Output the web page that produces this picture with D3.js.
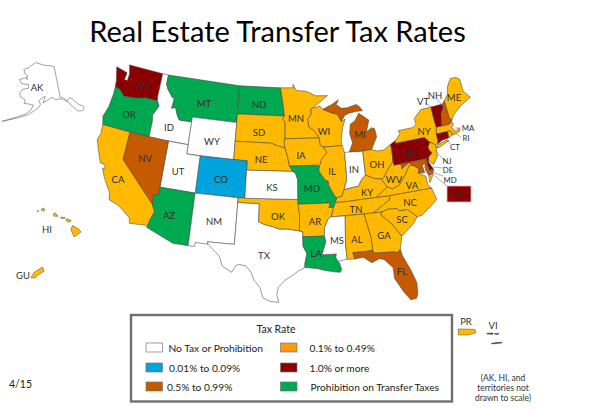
<!DOCTYPE html>
<html><head><meta charset="utf-8">
<script src="https://cdn.jsdelivr.net/npm/d3@7"></script>
<style>html,body{margin:0;padding:0;background:#fff}svg{display:block}text{font-family:Lato,"Open Sans",sans-serif}</style>
</head><body><svg id="c" width="600" height="413"></svg>
<script>
// ---------- data: rate classes ----------
const rateClasses = ["none","low","mid","high","top","ban"];
const rateColors = ["#ffffff","#00a3dc","#ffb900","#c55a00","#8b0000","#00a84f"];
const legendLabels = ["No Tax or Prohibition","0.01% to 0.09%","0.1% to 0.49%","0.5% to 0.99%","1.0% or more","Prohibition on Transfer Taxes"];
const noTax = ["ID","WY","UT","NM","TX","KS","MS","IN","AK"];
const lowRate = ["CO"];
const midRate = ["CA","SD","NE","OK","AR","MN","IA","WI","IL","OH","KY","TN","AL","GA","SC","NC","VA","WV","NY","LI","ME","MA","RI","NJ"];
const highRate = ["NV","MI","MIU","FL","NH","MD"];
const topRate = ["WA","PA","VT","CT","DE"];
const banned = ["OR","MT","ND","MO","LA","AZ"];

// ---------- data: state outlines, [lon,lat] ----------
const WA=[[-124.7,48.4],[-123.1,48.15],[-122.8,48.1],[-122.9,47.3],[-122.4,47.3],[-122.35,48.1],[-122.75,49],[-117.03,49],[-117.04,46.43],[-116.92,45.99],[-118.98,46],[-119.3,45.93],[-120.5,45.7],[-121.2,45.65],[-122.3,45.55],[-122.8,45.9],[-123.2,46.15],[-124,46.27],[-124.1,46.9]];
const OR=[[-124,46.27],[-123.2,46.15],[-122.8,45.9],[-122.3,45.55],[-121.2,45.65],[-120.5,45.7],[-119.3,45.93],[-118.98,46],[-116.92,45.99],[-116.5,45.5],[-117.2,44.4],[-117.03,43.8],[-117.03,42],[-124.2,42],[-124.55,42.85],[-124.1,44],[-123.95,45.5]];
const ID=[[-117.03,49],[-116.05,49],[-116.05,48],[-115.7,47.5],[-114.7,46.7],[-114.35,46.65],[-114.5,45.55],[-113.9,45.7],[-113.45,44.95],[-113,44.45],[-111.05,44.48],[-111.05,42],[-117.03,42],[-117.03,43.8],[-117.2,44.4],[-116.5,45.5],[-116.92,45.99],[-117.04,46.43]];
const MT=[[-116.05,49],[-104.05,49],[-104.04,45],[-111.05,45],[-111.05,44.48],[-113,44.45],[-113.45,44.95],[-113.9,45.7],[-114.5,45.55],[-114.35,46.65],[-114.7,46.7],[-115.7,47.5],[-116.05,48]];
const WY=[[-111.05,45],[-104.04,45],[-104.05,41],[-111.05,41]];
const ND=[[-104.05,49],[-97.23,49],[-96.85,47.5],[-96.55,45.94],[-104.05,45.94]];
const SD=[[-104.05,45.94],[-96.55,45.94],[-96.85,45.6],[-96.45,45.3],[-96.45,43.5],[-96.6,43.1],[-96.45,42.5],[-97.9,42.8],[-98.5,43],[-104.05,43]];
const NE=[[-104.05,43],[-98.5,43],[-97.9,42.8],[-96.45,42.5],[-96.1,41.7],[-95.85,40.7],[-95.31,40],[-102.05,40],[-102.05,41],[-104.05,41]];
const CO=[[-109.05,41],[-102.05,41],[-102.05,37],[-109.05,37]];
const UT=[[-114.05,42],[-111.05,42],[-111.05,41],[-109.05,41],[-109.05,37],[-114.05,37]];
const NV=[[-120,42],[-114.05,42],[-114.05,36.2],[-114.7,36.1],[-114.6,35],[-120,39]];
const CA=[[-124.2,42],[-120,42],[-120,39],[-114.6,35],[-114.15,34.3],[-114.5,33.5],[-114.72,32.72],[-117.13,32.53],[-117.3,33.1],[-118.4,33.75],[-119.2,34.15],[-120.5,34.45],[-120.65,35.15],[-121.9,36.6],[-122.5,37.5],[-122.1,37.6],[-122.4,37.95],[-123,38],[-123.8,39.3],[-124.35,40.3],[-124.1,41]];
const AZ=[[-114.05,37],[-109.05,37],[-109.05,31.33],[-111.07,31.33],[-114.82,32.5],[-114.72,32.72],[-114.5,33.5],[-114.15,34.3],[-114.6,35],[-114.7,36.1],[-114.05,36.2]];
const NM=[[-109.05,37],[-103,37],[-103.05,32],[-106.6,32],[-106.5,31.75],[-108.2,31.78],[-108.2,31.33],[-109.05,31.33]];
const TX=[[-103,36.5],[-100,36.5],[-100,34.56],[-99.2,34.3],[-98.1,34.1],[-97.2,33.85],[-96,33.85],[-94.48,33.64],[-94.04,33.55],[-94.04,33],[-94.04,31.99],[-93.55,31.2],[-93.85,30.1],[-93.85,29.7],[-94.7,29.35],[-95.4,28.9],[-96.4,28.35],[-97.2,27.6],[-97.4,26.8],[-97.15,25.96],[-98.2,26.05],[-99.1,26.4],[-99.5,27.5],[-100.3,28.3],[-100.7,29.1],[-101.4,29.77],[-102.3,29.88],[-102.7,29.7],[-103.15,28.98],[-104.4,29.55],[-104.9,30.6],[-106.5,31.75],[-106.6,32],[-103.05,32]];
const OK=[[-103,37],[-94.62,37],[-94.43,35.4],[-94.48,33.64],[-96,33.85],[-97.2,33.85],[-98.1,34.1],[-99.2,34.3],[-100,34.56],[-100,36.5],[-103,36.5]];
const KS=[[-102.05,40],[-95.31,40],[-94.9,39.8],[-94.6,39.1],[-94.62,37],[-102.05,37]];
const MN=[[-97.23,49],[-95.15,49],[-95.15,49.38],[-94.6,48.7],[-93,48.6],[-91.4,48.05],[-89.5,48],[-92,46.75],[-92.3,46.66],[-92.3,46.1],[-92.85,45.6],[-92.75,44.75],[-91.9,44.3],[-91.2,43.5],[-96.45,43.5],[-96.45,45.3],[-96.85,45.6],[-96.55,45.94],[-96.85,47.5]];
const IA=[[-96.45,43.5],[-91.2,43.5],[-91.1,42.7],[-90.65,42.5],[-90.15,41.9],[-91,41.2],[-91.4,40.4],[-91.7,40.6],[-95.77,40.58],[-96.1,41.7],[-96.45,42.5],[-96.6,43.1]];
const MO=[[-95.77,40.58],[-91.7,40.6],[-91.4,40.4],[-91.5,40],[-90.7,39],[-90.2,38.8],[-90.2,38.4],[-89.5,37.3],[-89.15,37],[-89.4,36.5],[-89.7,36],[-90.37,36],[-90.15,36.5],[-94.62,36.5],[-94.62,37],[-94.6,39.1],[-94.9,39.8],[-95.31,40]];
const AR=[[-94.62,36.5],[-90.15,36.5],[-90.37,36],[-89.7,36],[-90.1,35.1],[-90.6,34.7],[-91.1,33.9],[-91.17,33],[-94.04,33],[-94.04,33.55],[-94.48,33.64],[-94.43,35.4]];
const LA=[[-94.04,33],[-91.17,33],[-91,32.4],[-91.6,31],[-89.73,31],[-89.85,30.65],[-89.6,30.2],[-89.4,30],[-89.2,29.3],[-89.4,29],[-90.2,29.1],[-91.3,29.3],[-92.3,29.55],[-93.85,29.7],[-93.85,30.1],[-93.55,31.2],[-94.04,31.99]];
const WI=[[-92.3,46.66],[-92,46.75],[-90.8,46.9],[-90.4,46.55],[-89.1,46.13],[-88.1,45.9],[-87.6,45.1],[-87,45.3],[-87.5,44.4],[-87.9,43],[-87.8,42.5],[-90.65,42.5],[-91.1,42.7],[-91.2,43.5],[-91.9,44.3],[-92.75,44.75],[-92.85,45.6],[-92.3,46.1]];
const IL=[[-90.65,42.5],[-87.8,42.5],[-87.53,41.7],[-87.53,39.3],[-87.6,38.7],[-88.05,37.8],[-88.45,37.1],[-89.15,37],[-89.5,37.3],[-90.2,38.4],[-90.2,38.8],[-90.7,39],[-91.5,40],[-91.4,40.4],[-91,41.2],[-90.15,41.9]];
const IN=[[-87.53,41.7],[-87.2,41.75],[-86.8,41.76],[-84.8,41.7],[-84.82,39.1],[-85.4,38.7],[-86,38],[-86.8,37.95],[-88.05,37.8],[-87.6,38.7],[-87.53,39.3]];
const MI=[[-86.8,41.76],[-84.8,41.7],[-83.45,41.73],[-83.1,42.2],[-82.45,43],[-82.6,43.9],[-83,44.05],[-83.9,43.7],[-83.3,44.9],[-84.75,45.78],[-85.5,45],[-86.25,44.7],[-86.5,43.7],[-86.2,42.7]];
const MIU=[[-90.4,46.55],[-89.1,46.13],[-88.1,45.9],[-87.6,45.1],[-87,45.7],[-86.3,45.9],[-85,46],[-84.1,46],[-84.5,46.45],[-85,46.75],[-86.5,46.5],[-87.4,46.5],[-88.2,46.95],[-87.8,47.45],[-88.9,47]];
const OH=[[-84.8,41.7],[-83.45,41.73],[-82.7,41.5],[-81.7,41.5],[-80.52,41.98],[-80.52,40.64],[-80.7,40],[-81.7,39.2],[-82.2,38.6],[-82.6,38.45],[-83.7,38.65],[-84.82,39.1]];
const KY=[[-89.15,37],[-88.45,37.1],[-88.05,37.8],[-86.8,37.95],[-86,38],[-85.4,38.7],[-84.82,39.1],[-83.7,38.65],[-82.6,38.45],[-81.97,37.54],[-83.68,36.6],[-88.05,36.5],[-89.4,36.5]];
const TN=[[-90.1,35],[-89.7,36],[-89.4,36.5],[-88.05,36.5],[-83.68,36.6],[-81.68,36.59],[-82,36.1],[-84.32,35]];
const MS=[[-90.3,35],[-88.2,35],[-88.47,31.9],[-88.4,30.35],[-89.6,30.2],[-89.85,30.65],[-89.73,31],[-91.6,31],[-91,32.4],[-91.17,33],[-91.1,33.9],[-90.6,34.7]];
const AL=[[-88.2,35],[-85.6,35],[-85,32.3],[-85,31],[-87.6,31],[-87.4,30.3],[-88.4,30.35],[-88.47,31.9]];
const GA=[[-85.6,35],[-83.1,35],[-83.35,34.7],[-82,33.5],[-81,32.1],[-81.45,30.7],[-82,30.4],[-82.2,30.55],[-84.86,30.7],[-85,31],[-85,32.3]];
const FL=[[-87.6,31],[-85,31],[-84.86,30.7],[-82.2,30.55],[-82,30.4],[-81.45,30.7],[-81.3,30],[-80.55,28.4],[-80.05,26.9],[-80.15,25.7],[-80.4,25.2],[-81.1,25.15],[-81.8,26.1],[-82.7,27.7],[-82.7,28.9],[-83.7,29.9],[-84.3,30.05],[-85.3,29.7],[-86.3,30.4],[-87.4,30.3]];
const SC=[[-83.35,34.7],[-83.1,35],[-82.3,35.2],[-81.05,35.1],[-80.8,34.82],[-79.67,34.8],[-78.55,33.86],[-79.2,33.2],[-80.5,32.4],[-81,32.1],[-82,33.5]];
const NC=[[-84.32,35],[-82,36.1],[-81.68,36.59],[-75.87,36.55],[-75.5,35.25],[-76.5,34.65],[-77.9,33.9],[-78.55,33.86],[-79.67,34.8],[-80.8,34.82],[-81.05,35.1],[-82.3,35.2],[-83.1,35]];
const VA=[[-83.68,36.6],[-81.97,37.54],[-81.25,37.25],[-80.3,37.5],[-79.3,38.4],[-78.35,39.4],[-77.75,39.3],[-77.05,38.85],[-77.3,38.4],[-76.3,37.9],[-76.3,36.95],[-75.87,36.55],[-81.68,36.59]];
const VAE=[[-75.25,38.03],[-75.9,37.95],[-75.95,37.15],[-75.6,37.5]];
const WV=[[-82.6,38.45],[-82.2,38.6],[-81.7,39.2],[-80.7,40],[-80.52,40.64],[-80.52,39.72],[-79.48,39.72],[-79.48,39.2],[-78.35,39.7],[-77.75,39.3],[-78.35,39.4],[-79.3,38.4],[-80.3,37.5],[-81.25,37.25],[-81.97,37.54]];
const PA=[[-80.52,41.98],[-79.76,42.27],[-79.76,42],[-75.35,42],[-74.7,41.36],[-75.1,40.95],[-75.1,40.65],[-74.75,40.2],[-75.4,39.8],[-75.79,39.72],[-80.52,39.72]];
const NY=[[-79.76,42.27],[-78.9,42.9],[-79.05,43.27],[-76.8,43.3],[-76.2,43.55],[-76.3,44.2],[-75,45],[-73.35,45],[-73.35,43.6],[-73.27,42.75],[-73.5,42.05],[-73.5,41.3],[-73.65,41],[-74,40.95],[-74.7,41.36],[-75.35,42],[-79.76,42]];
const LI=[[-74.05,40.6],[-73.7,40.9],[-72.3,41.15],[-71.9,41.05],[-73.5,40.6]];
const NJ=[[-74.7,41.36],[-74,40.95],[-74,40.4],[-74.1,39.7],[-74.9,38.95],[-75.5,39.5],[-75.4,39.8],[-74.75,40.2],[-75.1,40.65],[-75.1,40.95]];
const DE=[[-75.79,39.72],[-75.4,39.8],[-75.55,39.4],[-75.05,38.45],[-75.7,38.45]];
const MD=[[-79.48,39.72],[-75.79,39.72],[-75.7,38.45],[-75.05,38.45],[-75.25,38.03],[-75.9,37.95],[-76.2,38.6],[-76.1,39.3],[-76.5,39.1],[-76.4,38.3],[-77.3,38.4],[-77.05,38.85],[-77.75,39.3],[-78.35,39.7],[-79.48,39.2]];
const VT=[[-73.35,45],[-71.5,45],[-71.6,44.5],[-72.05,44.1],[-72.45,42.73],[-73.27,42.75],[-73.35,43.6]];
const NH=[[-71.5,45],[-71.08,45.3],[-70.98,43.4],[-70.7,43.07],[-70.85,42.87],[-71.3,42.7],[-72.45,42.73],[-72.05,44.1],[-71.6,44.5]];
const ME=[[-71.08,45.3],[-70.4,45.8],[-70,46.7],[-69.2,47.45],[-68.3,47.35],[-67.8,47.05],[-67.8,45.7],[-67,44.85],[-68.8,44.3],[-70.2,43.6],[-70.7,43.07],[-70.98,43.4]];
const MA=[[-73.27,42.75],[-71.3,42.7],[-70.85,42.87],[-70.6,42.65],[-71.05,42.3],[-70.55,41.8],[-70,42.05],[-69.95,41.7],[-70.65,41.55],[-71.2,41.5],[-71.38,42.02],[-71.8,42.02],[-73.5,42.05]];
const RI=[[-71.8,42.02],[-71.38,42.02],[-71.2,41.5],[-71.85,41.32]];
const CT=[[-73.5,42.05],[-71.8,42.02],[-71.85,41.32],[-72.9,41.25],[-73.65,41],[-73.5,41.3]];

// insets
const AK=[[-141,69.65],[-143.5,70.1],[-148,70.4],[-152,70.85],[-156.6,71.35],[-160,70.5],[-163,69.5],[-166.2,68.9],[-164.5,67.6],[-162,67],[-163.5,66.6],[-161.8,66.1],[-164,66.5],[-168,65.65],[-166,64.6],[-161,64.6],[-161,63.5],[-164.5,63],[-166,61.6],[-165,60.7],[-162,60],[-162.5,59],[-158,58.8],[-157,58.7],[-158.5,57],[-161,55.9],[-164.5,54.9],[-172,52.4],[-164.5,54.5],[-163,54.9],[-159.5,55.8],[-157,56.8],[-154,58],[-153,59],[-154,60],[-151.5,61],[-150,61.2],[-151.5,59.3],[-149,60],[-146,60.8],[-144,60],[-141,59.9],[-139.5,59.6],[-137,58.4],[-135.5,57],[-133.5,55.2],[-131,54.8],[-130,55.2],[-130,56],[-132,57],[-134,58.8],[-135.5,59.7],[-137.5,58.9],[-139,60],[-141,60.3]];
const HIislands=[
 [[-156.05,19.75],[-155.85,20.25],[-155.1,19.85],[-154.8,19.5],[-155.65,18.92]],
 [[-156.7,20.9],[-156.5,21.02],[-156,20.8],[-156.4,20.6]],
 [[-157.3,21.2],[-156.75,21.15],[-156.85,21.05],[-157.3,21.08]],
 [[-158.25,21.55],[-158,21.7],[-157.65,21.3],[-158.1,21.3]],
 [[-159.75,22.1],[-159.4,22.25],[-159.3,21.95],[-159.6,21.9]],
 [[-160.25,21.85],[-160.1,22],[-160.05,21.9],[-160.2,21.78]]
];
const GU=[[144.62,13.25],[144.7,13.45],[144.92,13.65],[144.96,13.5],[144.78,13.32],[144.72,13.24]];
const PR=[[-67.25,18.5],[-65.7,18.47],[-65.6,18.15],[-66.3,17.95],[-67.2,17.95]];
const VIislands=[
 [[-65.03,18.37],[-64.85,18.39],[-64.85,18.31],[-65.03,18.32]],
 [[-64.8,18.36],[-64.67,18.36],[-64.7,18.3],[-64.8,18.31]],
 [[-64.9,17.72],[-64.75,17.78],[-64.58,17.79],[-64.58,17.75],[-64.88,17.68]]
];

// ---------- projection: Albers, then an affine fit to the reference's control points ----------
const controlPoints=[
 [-124.7,48.4,117,66],[-109.05,41,200,157],[-109.05,37,196,194],[-102.05,37,245,198.5],[-102.05,41,247,162],
 [-117.03,49,163,74],[-104.05,49,239,87],[-97.23,49,282,89],[-117.13,32.53,128,222],[-114.82,32.5,147,225],
 [-109.05,31.33,188,245],[-103.05,32,234,244],[-94.62,37,298,200],[-89.2,29.3,343,273],[-67,44.85,469,98],
 [-80.52,41.98,392,145],[-80.52,39.72,393,163],[-75.79,39.72,430,158],[-73.35,45,430,107],[-81.45,30.7,401,250],
 [-89.15,37,336,196],[-89.5,48,327,96],[-80.9,25.15,413,301],[-97.15,25.96,278,303],[-75.5,35.25,434,195]
];
const albers=d3.geoAlbers().parallels([29.5,45.5]).rotate([96,0]).center([0,38.7]).scale(500).translate([0,0]);
function solve3(A,b){
  const M=A.map((r,i)=>[...r,b[i]]);
  for(let i=0;i<3;i++){
    let p=i;for(let k=i+1;k<3;k++)if(Math.abs(M[k][i])>Math.abs(M[p][i]))p=k;
    [M[i],M[p]]=[M[p],M[i]];
    for(let k=0;k<3;k++)if(k!==i){const f=M[k][i]/M[i][i];for(let j=i;j<4;j++)M[k][j]-=f*M[i][j];}
  }
  return M.map((r,i)=>r[3]/r[i]);
}
function fitAffine(){
  const A=[[0,0,0],[0,0,0],[0,0,0]],bx=[0,0,0],by=[0,0,0];
  controlPoints.forEach(c=>{const [u,v]=albers([c[0],c[1]]);const r=[u,v,1];
    for(let i=0;i<3;i++){for(let j=0;j<3;j++)A[i][j]+=r[i]*r[j];bx[i]+=r[i]*c[2];by[i]+=r[i]*c[3];}});
  return [solve3(A,bx),solve3(A,by)];
}
const [ax,ay]=fitAffine();
const projection=p=>{const [u,v]=albers(p);return [ax[0]*u+ax[1]*v+ax[2],ay[0]*u+ay[1]*v+ay[2]];};

// ---------- layout ----------
const svg=d3.select("#c");
const stateShapes={WA,OR,ID,MT,WY,ND,SD,NE,CO,UT,NV,CA,AZ,NM,TX,OK,KS,MN,IA,MO,AR,LA,WI,IL,IN,MI,MIU,OH,KY,TN,MS,AL,GA,FL,SC,NC,VA,WV,PA,NY,LI,NJ,DE,MD,VT,NH,ME,MA,RI,CT};
const classOf=code=>{
  if(midRate.includes(code))return 2;
  if(lowRate.includes(code))return 1;
  if(highRate.includes(code))return 3;
  if(topRate.includes(code))return 4;
  if(banned.includes(code))return 5;
  return 0;
};
const line=d3.line();
const strokeCol="#444";
const map=svg.append("g");
map.selectAll("path.state").data(Object.keys(stateShapes)).join("path").attr("class","state")
  .attr("d",c=>line(stateShapes[c].map(projection))+"Z")
  .attr("fill",c=>rateColors[classOf(c)]).attr("stroke",strokeCol).attr("stroke-width",0.55).attr("stroke-linejoin","round");
map.append("path").attr("d",line(VAE.map(projection))+"Z").attr("fill",rateColors[2]).attr("stroke",strokeCol).attr("stroke-width",0.5);

// Alaska
const akProj=d3.geoConicEqualArea().parallels([55,65]).rotate([154,0]).center([0,62]).fitExtent([[2,59],[84,125]],{type:"MultiPoint",coordinates:AK});
svg.append("path").attr("d",line(AK.map(akProj))+"Z").attr("fill","#fff").attr("stroke","#555").attr("stroke-width",0.55);

// small insets drawn with linear scales
function inset(parts,lonD,latD,xR,yR,fill){
  const x=d3.scaleLinear().domain(lonD).range(xR), y=d3.scaleLinear().domain(latD).range(yR);
  const l=d3.line().x(d=>x(d[0])).y(d=>y(d[1]));
  svg.append("g").selectAll("path").data(parts).join("path").attr("d",d=>l(d)+"Z").attr("fill",fill).attr("stroke",strokeCol).attr("stroke-width",0.5);
}
inset(HIislands,[-160.25,-154.8],[22.25,18.92],[37,81],[208,237],rateColors[2]);
inset([GU],[144.62,144.96],[13.65,13.24],[31,44],[267,278],rateColors[2]);
inset([PR],[-67.25,-65.6],[18.5,17.95],[458,476],[329,335],rateColors[2]);
inset(VIislands,[-65.03,-64.58],[18.39,17.68],[487,502],[333,344],rateColors[4]);

// state labels
const labelCodes=["AK","WA","OR","ID","MT","ND","WY","SD","NE","NV","UT","CO","CA","KS","AZ","NM","OK","TX","HI","GU","MN","WI","MI","IA","IL","IN","OH","MO","KY","WV","VA","PA","NY","ME","NC","TN","AR","SC","GA","AL","MS","LA","FL","VT","NH","DC","PR","VI"];
const calloutCodes=["MA","RI","CT","NJ","DE","MD"];
const labelLayout={AK:[37,87],WA:[143,86],OR:[129,114],ID:[169,127],MT:[204,103],ND:[259,104],WY:[212,141],SD:[259,132],NE:[261,159],NV:[145,158],UT:[178,171],CO:[221,179],CA:[118,179],KS:[272,187],AZ:[169,215],NM:[214,221],OK:[278,216],TX:[264,255],HI:[47,229],GU:[23,275],MN:[296,118],WI:[324,131],MI:[360,134],IA:[301,155],IL:[332,171],IN:[354,169],OH:[377,164],MO:[312,188],KY:[367,192],WV:[394,179],VA:[412,185],PA:[411,153],NY:[424,131],ME:[454,97],NC:[410,202],TN:[356,209],AR:[315,221],SC:[402,219],GA:[384,235],AL:[357,239],MS:[337,240],LA:[316,253],FL:[402,271],VT:[423,101],NH:[435,95],MA:[468,127.5],RI:[466,138],CT:[455,147],NJ:[447,160.5],DE:[448,170],MD:[450,179.5],DC:[459,194],PR:[466,321],VI:[493,325]};
const leaderLayout=[[425,103,432,107],[437,99,442,105],[461,128,455,128],[461,137,452,131],[450,144,447,139],[443,159,435,150],[443,168,433,167],[443,176,432,172],[447,186,424,167]];
svg.append("g").selectAll("line").data(leaderLayout).join("line")
  .attr("x1",d=>d[0]).attr("y1",d=>d[1]).attr("x2",d=>d[2]).attr("y2",d=>d[3]).attr("stroke","#8c8c8c").attr("stroke-width",0.7);
svg.append("rect").attr("x",447).attr("y",186).attr("width",24).attr("height",16).attr("fill",rateColors[4]).attr("stroke","#e0b8b8").attr("stroke-width",0.8);
const lbl=(codes,size)=>svg.append("g").selectAll("text").data(codes).join("text")
  .attr("x",c=>labelLayout[c][0]).attr("y",c=>labelLayout[c][1]).attr("text-anchor","middle").attr("dominant-baseline","central")
  .attr("font-size",size).attr("fill","#2f2f2f").text(c=>c);
lbl(labelCodes,9.5);
lbl(calloutCodes,7.8);

// title
svg.append("text").attr("x",277.5).attr("y",42).attr("text-anchor","middle").attr("font-size",29).attr("fill","#000").text("Real Estate Transfer Tax Rates");

// legend
svg.append("rect").attr("x",131).attr("y",315).attr("width",321).attr("height",86.5).attr("fill","#fff").attr("stroke","#6f6f6f").attr("stroke-width",2.4);
svg.append("text").attr("x",276).attr("y",329).attr("text-anchor","middle").attr("dominant-baseline","central").attr("font-size",10.5).attr("fill","#222").text("Tax Rate");
const legendRows=[
 {i:0,sx:146,tx:168.5,y:347.5,fill:"#ffffff"},
 {i:1,sx:146,tx:169,y:367.5,fill:rateColors[1]},
 {i:3,sx:146,tx:167,y:386.5,fill:rateColors[3]},
 {i:2,sx:280.5,tx:309.5,y:347.5,fill:"#ff9a10"},
 {i:4,sx:280.5,tx:309.5,y:367.5,fill:rateColors[4]},
 {i:5,sx:280.5,tx:310.5,y:386.5,fill:rateColors[5]}];
const lg=svg.append("g").selectAll("g").data(legendRows).join("g");
lg.append("rect").attr("x",d=>d.sx).attr("y",d=>d.y-4.5).attr("width",16.5).attr("height",9).attr("fill",d=>d.fill).attr("stroke","#777").attr("stroke-width",0.7);
lg.append("text").attr("x",d=>d.tx).attr("y",d=>d.y).attr("dominant-baseline","central").attr("font-size",10.2).attr("fill","#222").text(d=>legendLabels[d.i]);

// notes
svg.append("text").attr("x",9).attr("y",384).attr("dominant-baseline","central").attr("font-size",10.5).attr("fill","#222").text("4/15");
const noteLines=["(AK, HI, and","territories not","drawn to scale)"];
svg.append("g").selectAll("text").data(noteLines).join("text").attr("x",503).attr("y",(d,i)=>378+i*10).attr("text-anchor","middle").attr("dominant-baseline","central").attr("font-size",8.5).attr("fill","#333").text(d=>d);
</script></body></html>
